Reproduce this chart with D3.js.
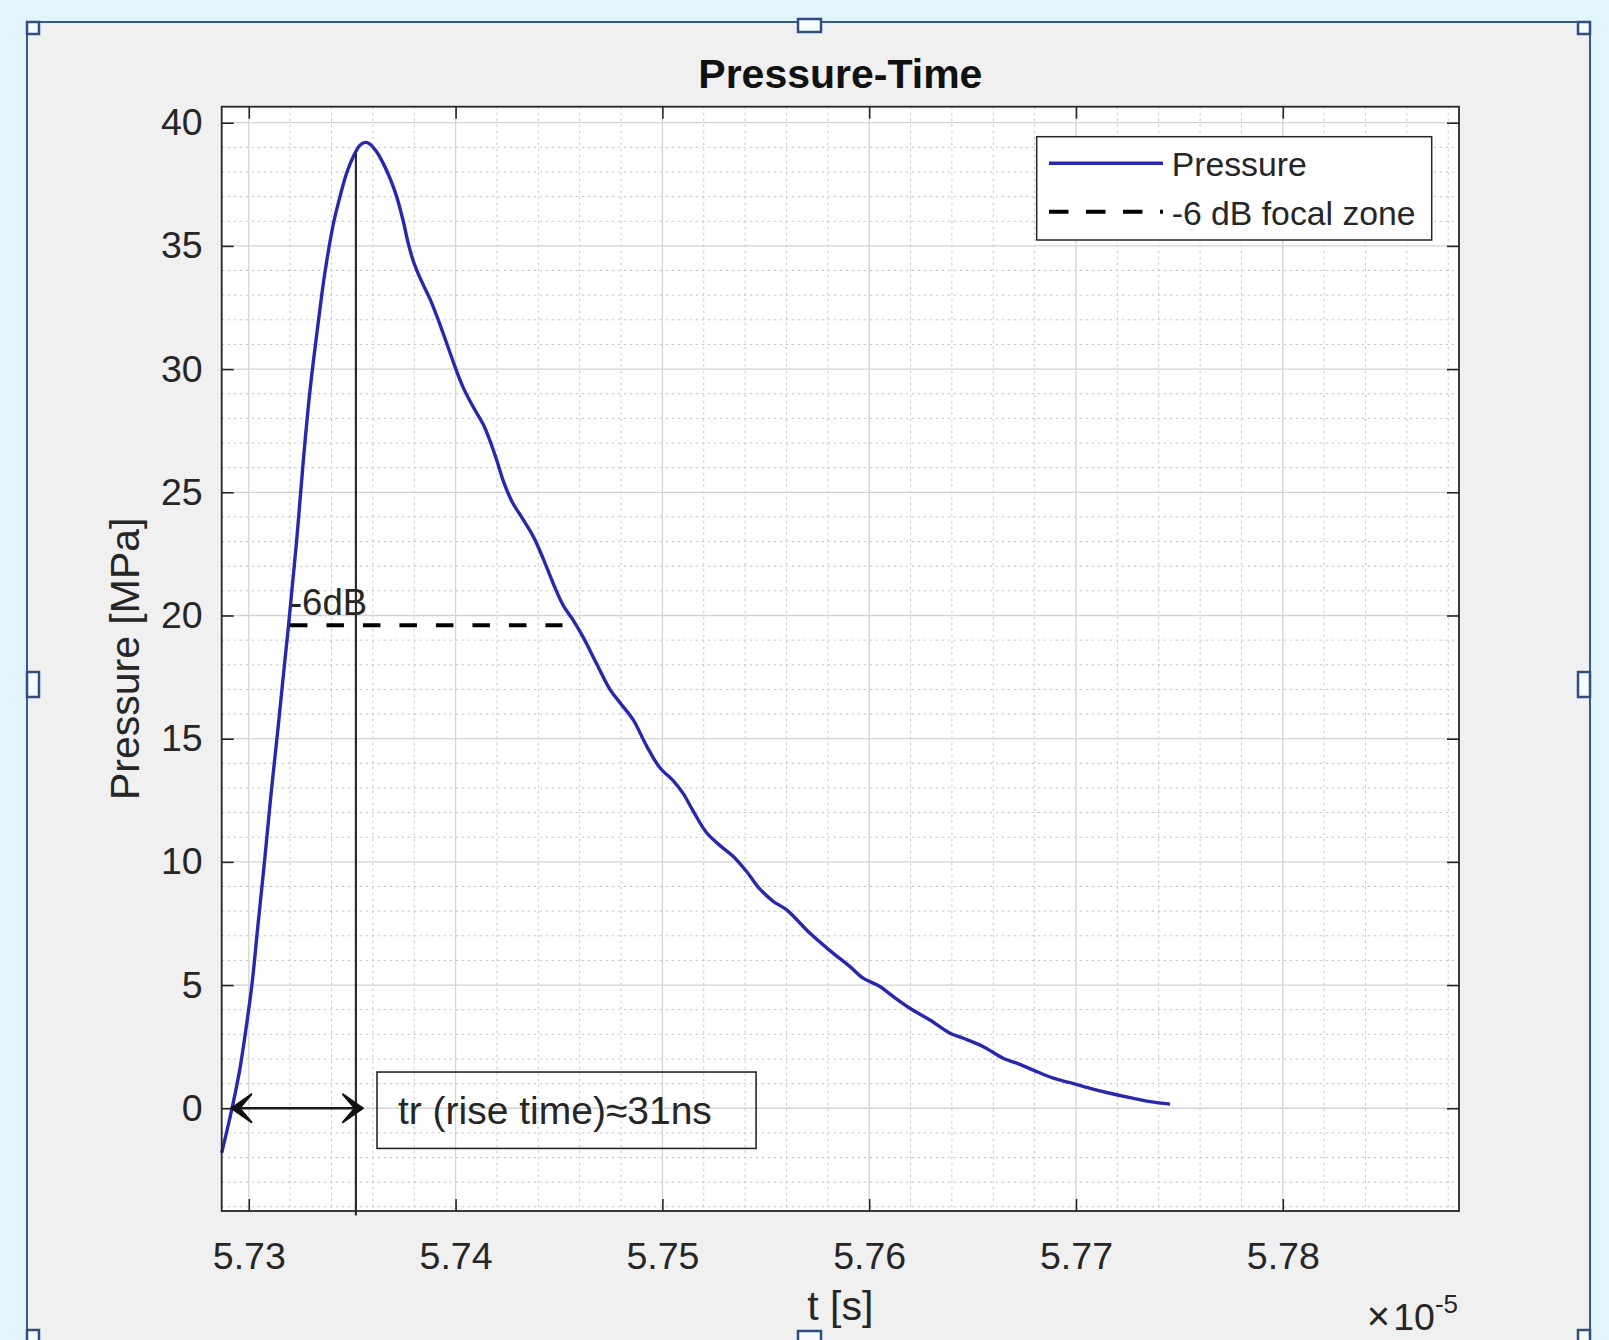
<!DOCTYPE html>
<html>
<head>
<meta charset="utf-8">
<script src="https://cdn.jsdelivr.net/npm/d3@7"></script>
<style>
  body { margin: 0; background: #e2f5fb; }
  svg { display: block; }
  text { font-family: "Liberation Sans", Arial, sans-serif; fill: #262626; }
</style>
</head>
<body>
<div id="chart"></div>
<script>
// time in units of 1e-5 s, pressure in MPa
const tData = [5.72869, 5.72919, 5.72957, 5.72986, 5.73015, 5.73044, 5.73077, 5.73107, 5.73141, 5.73170,
               5.73191, 5.73207, 5.73232, 5.73248, 5.73267, 5.73288, 5.73312, 5.73336, 5.73360, 5.73380,
               5.73409, 5.73441, 5.73473, 5.73505, 5.73538, 5.73562, 5.73586, 5.73618, 5.73650, 5.73683,
               5.73715, 5.73747, 5.73771, 5.73795, 5.73828, 5.73876, 5.73916, 5.73957, 5.73997, 5.74037,
               5.74086, 5.74134, 5.74166, 5.74199, 5.74231, 5.74271, 5.74311, 5.74376, 5.74424, 5.74472,
               5.74521, 5.74569, 5.74618, 5.74682, 5.74747, 5.74795, 5.74859, 5.74924, 5.74988, 5.75053,
               5.75101, 5.75149, 5.75214, 5.75279, 5.75343, 5.75408, 5.75472, 5.75536, 5.75601, 5.75714,
               5.75810, 5.75907, 5.75971, 5.76052, 5.76117, 5.76197, 5.76294, 5.76391, 5.76455, 5.76552,
               5.76648, 5.76713, 5.76793, 5.76890, 5.76971, 5.77068, 5.77164, 5.77261, 5.77358, 5.77455];
const pData = [-1.81, 0, 1.6, 3.2, 5.0, 7.4, 10.1, 12.7, 15.4, 17.8,
               19.5, 20.9, 23.1, 24.7, 26.6, 28.5, 30.3, 31.9, 33.45, 34.55,
               35.9, 37.0, 37.95, 38.62, 39.09, 39.2, 39.13, 38.82, 38.35, 37.74,
               37.0, 36.0, 35.1, 34.4, 33.7, 32.85, 32.0, 31.05, 30.1, 29.25,
               28.45, 27.75, 27.1, 26.3, 25.45, 24.65, 24.1, 23.2, 22.3, 21.3,
               20.4, 19.8, 19.1, 18.04, 16.99, 16.46, 15.76, 14.7, 13.82, 13.29,
               12.77, 12.06, 11.18, 10.66, 10.22, 9.6, 8.89, 8.4, 8.05, 7.1,
               6.4, 5.75, 5.28, 4.94, 4.53, 4.06, 3.58, 3.04, 2.84, 2.5,
               2.03, 1.83, 1.55, 1.22, 1.04, 0.81, 0.61, 0.43, 0.27, 0.17];

const xDomain = [5.72869, 5.78852];
const yDomain = [-4.17, 40.65];
const xTicks = [5.73, 5.74, 5.75, 5.76, 5.77, 5.78];
const yTicks = [0, 5, 10, 15, 20, 25, 30, 35, 40];
const legendLabels = ["Pressure", "-6 dB focal zone"];

// annotations (data units)
const halfP = 19.6;                     // -6 dB level
const dbRange = [5.73199, 5.74517];
const dbLabel = { t: 5.73199, p: 20.0, text: "-6dB" };
const peakT = 5.73518;
const peakLineP = [38.8, -4.35];
const riseArrowT = [5.72916, 5.73552];
const noteBoxT = [5.73620, 5.75453];
const noteBoxP = [1.47, -1.63];
const noteText = { t: 5.73721, p: -0.1, text: "tr (rise time)\u224831ns" };

const W = 1609, H = 1340;
const plot = { left: 221.7, top: 106.7, right: 1459, bottom: 1211 };
const blue = "#2828ae", ink = "#262626";

const svg = d3.select("#chart").append("svg")
    .attr("width", W)
    .attr("height", H);

// figure panel with selection handles
svg.append("rect")
    .attr("x", 27).attr("y", 22)
    .attr("width", 1563).attr("height", 1326)
    .attr("fill", "#f0f0f0")
    .attr("stroke", "#34598a")
    .attr("stroke-width", 2);

const handles = [
    [27, 22, 12, 12], [798, 19, 23, 13], [1578, 22, 12, 12],
    [27, 672, 12, 25], [1578, 672, 12, 25],
    [27, 1330, 12, 12], [798, 1331, 23, 13], [1578, 1330, 12, 12]
];
svg.selectAll(".handle")
    .data(handles)
    .enter()
    .append("rect")
    .attr("class", "handle")
    .attr("x", d => d[0]).attr("y", d => d[1])
    .attr("width", d => d[2]).attr("height", d => d[3])
    .attr("fill", "#f5fbff")
    .attr("stroke", "#2f4f7f")
    .attr("stroke-width", 2.5);

const x = d3.scaleLinear().domain(xDomain).range([plot.left, plot.right]);
const y = d3.scaleLinear().domain(yDomain).range([plot.bottom, plot.top]);

// plot background
svg.append("rect")
    .attr("x", plot.left).attr("y", plot.top)
    .attr("width", plot.right - plot.left)
    .attr("height", plot.bottom - plot.top)
    .attr("fill", "#ffffff");

// minor grid
const xMinor = d3.range(0, 30).map(i => 5.73 + i * 0.002)
    .filter(v => v < xDomain[1] && Math.round(v * 1000) % 10 !== 0);
const yMinor = d3.range(-4, 41).filter(v => v % 5 !== 0);

const grid = svg.append("g");
grid.selectAll(".vminor")
    .data(xMinor).enter().append("line")
    .attr("x1", d => x(d)).attr("x2", d => x(d))
    .attr("y1", plot.top).attr("y2", plot.bottom)
    .attr("stroke", "#c6c6c6").attr("stroke-width", 1)
    .attr("stroke-dasharray", "2.5,3.5");
grid.selectAll(".hminor")
    .data(yMinor).enter().append("line")
    .attr("x1", plot.left).attr("x2", plot.right)
    .attr("y1", d => y(d)).attr("y2", d => y(d))
    .attr("stroke", "#c6c6c6").attr("stroke-width", 1)
    .attr("stroke-dasharray", "2.5,3.5");
grid.selectAll(".vmajor")
    .data(xTicks).enter().append("line")
    .attr("x1", d => x(d)).attr("x2", d => x(d))
    .attr("y1", plot.top).attr("y2", plot.bottom)
    .attr("stroke", "#d4d4d4").attr("stroke-width", 1.3);
grid.selectAll(".hmajor")
    .data(yTicks).enter().append("line")
    .attr("x1", plot.left).attr("x2", plot.right)
    .attr("y1", d => y(d)).attr("y2", d => y(d))
    .attr("stroke", "#d4d4d4").attr("stroke-width", 1.3);

// -6 dB label
svg.append("text")
    .attr("x", x(dbLabel.t))
    .attr("y", y(dbLabel.p))
    .style("font-size", "36.5px")
    .text(dbLabel.text);

// pressure curve
const points = tData.map((t, i) => [t, pData[i]]);
svg.append("path")
    .datum(points)
    .attr("fill", "none")
    .attr("stroke", blue)
    .attr("stroke-width", 3.4)
    .attr("stroke-linejoin", "round")
    .attr("d", d3.line().x(d => x(d[0])).y(d => y(d[1])).curve(d3.curveCatmullRom.alpha(0.5)));

// -6 dB focal zone line
svg.append("line")
    .attr("x1", x(dbRange[0])).attr("x2", x(dbRange[1]))
    .attr("y1", y(halfP)).attr("y2", y(halfP))
    .attr("stroke", "#000").attr("stroke-width", 4)
    .attr("stroke-dasharray", "17.5,19");

// axes (ticks inside, box on)
const styleAxis = g => {
    g.attr("color", ink);
    g.select(".domain").remove();
    g.selectAll(".tick line").attr("stroke-width", 1.6);
    g.selectAll(".tick text").style("font-size", "37.5px");
};
svg.append("g")
    .attr("transform", `translate(0,${plot.bottom})`)
    .call(d3.axisBottom(x).tickValues(xTicks).tickSize(-12).tickPadding(31).tickFormat(d3.format(".2f")))
    .call(styleAxis);
svg.append("g")
    .attr("transform", `translate(${plot.left},0)`)
    .call(d3.axisLeft(y).tickValues(yTicks).tickSize(-12).tickPadding(19))
    .call(styleAxis);
svg.append("g")
    .attr("transform", `translate(0,${plot.top})`)
    .call(d3.axisTop(x).tickValues(xTicks).tickSize(-12).tickFormat(""))
    .call(styleAxis);
svg.append("g")
    .attr("transform", `translate(${plot.right},0)`)
    .call(d3.axisRight(y).tickValues(yTicks).tickSize(-12).tickFormat(""))
    .call(styleAxis);

svg.append("rect")
    .attr("x", plot.left).attr("y", plot.top)
    .attr("width", plot.right - plot.left)
    .attr("height", plot.bottom - plot.top)
    .attr("fill", "none")
    .attr("stroke", ink)
    .attr("stroke-width", 1.8);

// peak marker line
svg.append("line")
    .attr("x1", x(peakT)).attr("x2", x(peakT))
    .attr("y1", y(peakLineP[0])).attr("y2", y(peakLineP[1]))
    .attr("stroke", "#2b2b2b").attr("stroke-width", 2.2);

// rise time double arrow
const arrowY = y(0);
const ax0 = x(riseArrowT[0]), ax1 = x(riseArrowT[1]);
svg.append("line")
    .attr("x1", ax0 + 8).attr("x2", ax1 - 8)
    .attr("y1", arrowY).attr("y2", arrowY)
    .attr("stroke", "#1a1a1a").attr("stroke-width", 2.6);
const head = (tip, dir) => {
    const L = 20, Wd = 14, back = 8;
    return `M${tip},${arrowY} L${tip - dir * L},${arrowY - Wd} L${tip - dir * back},${arrowY} L${tip - dir * L},${arrowY + Wd} Z`;
};
[[ax0, -1], [ax1, 1]].forEach(([tip, dir]) => {
    svg.append("path")
        .attr("d", head(tip, dir))
        .attr("fill", "#111")
        .attr("stroke", "#111")
        .attr("stroke-width", 2)
        .attr("stroke-linejoin", "round");
});

// rise time note
svg.append("rect")
    .attr("x", x(noteBoxT[0])).attr("y", y(noteBoxP[0]))
    .attr("width", x(noteBoxT[1]) - x(noteBoxT[0]))
    .attr("height", y(noteBoxP[1]) - y(noteBoxP[0]))
    .attr("fill", "none")
    .attr("stroke", ink).attr("stroke-width", 1.6);
svg.append("text")
    .attr("x", x(noteText.t))
    .attr("y", y(noteText.p))
    .attr("dominant-baseline", "central")
    .style("font-size", "39px")
    .text(noteText.text);

// title and axis labels
svg.append("text")
    .attr("x", (plot.left + plot.right) / 2)
    .attr("y", 88)
    .attr("text-anchor", "middle")
    .style("font-size", "41px")
    .style("font-weight", "bold")
    .style("fill", "#111")
    .text("Pressure-Time");

svg.append("text")
    .attr("transform", `translate(139,${(plot.top + plot.bottom) / 2}) rotate(-90)`)
    .attr("text-anchor", "middle")
    .style("font-size", "41px")
    .text("Pressure [MPa]");

svg.append("text")
    .attr("x", (plot.left + plot.right) / 2)
    .attr("y", 1320)
    .attr("text-anchor", "middle")
    .style("font-size", "41px")
    .text("t [s]");

const expo = svg.append("text")
    .attr("x", plot.right - 1)
    .attr("y", 1330)
    .attr("text-anchor", "end")
    .style("font-size", "37.5px");
expo.append("tspan").style("font-size", "40px").text("\u00d7");
expo.append("tspan").attr("dx", 3).text("10");
expo.append("tspan").attr("dy", -17).style("font-size", "26px").text("-5");

// legend
const legend = svg.append("g")
    .attr("transform", `translate(${plot.right - 27.3},${plot.top + 30})`);
legend.append("rect")
    .attr("x", -395).attr("y", 0)
    .attr("width", 395).attr("height", 103.3)
    .attr("fill", "#fff")
    .attr("stroke", ink).attr("stroke-width", 1.5);
const rows = legend.selectAll(".row")
    .data(legendLabels)
    .enter()
    .append("g")
    .attr("class", "row")
    .attr("transform", (d, i) => `translate(-395,${26.6 + i * 48.4})`);
rows.append("line")
    .attr("x1", 12.3).attr("x2", 126.3)
    .attr("stroke", (d, i) => i === 0 ? blue : "#000")
    .attr("stroke-width", (d, i) => i === 0 ? 3.4 : 4)
    .attr("stroke-dasharray", (d, i) => i === 0 ? null : "19.5,17.5");
rows.append("text")
    .attr("x", 135)
    .attr("y", 13)
    .style("font-size", "33.75px")
    .text(d => d);
</script>
</body>
</html>
